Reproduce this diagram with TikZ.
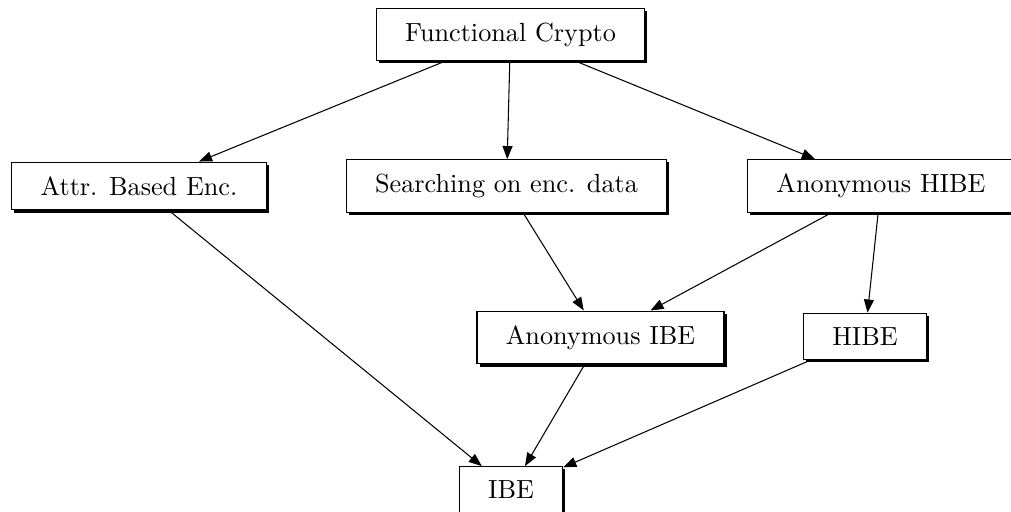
\documentclass[tikz,border=0pt]{standalone}
\usetikzlibrary{arrows.meta,shadows}

\begin{document}
\begin{tikzpicture}[x=0.3817pt,y=-0.3817pt,
  box/.style={draw,fill=white,inner xsep=11pt,inner ysep=5.5pt,
    drop shadow={shadow xshift=1pt,shadow yshift=-1pt,fill=black,opacity=1}},
  edge/.style={-{Triangle[length=5pt,width=3.8pt]}}]

\useasboundingbox (0,0) rectangle (1011,512);

% -- level 1
\node [box] (func) at (510.5,34.5) {Functional Crypto};

% -- level 2
\node [box] (abe) at (139,186) {Attr. Based Enc.};
\node [box] (search) at (506.5,186) {Searching on enc. data};
\node [box] (anonhibe) at (881,186) {Anonymous HIBE};

% -- level 3
\node [box] (anonibe) at (600.5,337.5) {Anonymous IBE};
\node [box] (hibe) at (865,336.5) {HIBE};

% -- level 4
\node [box] (ibe) at (511,490) {IBE};

% -- draw arrows
\draw[edge] (func) -- (abe);
\draw[edge] (func) -- (search);
\draw[edge] (func) -- (anonhibe);

\draw[edge] (abe) -- (ibe);
\draw[edge] (search) -- (anonibe);
\draw[edge] (anonhibe) -- (anonibe);
\draw[edge] (anonhibe) -- (hibe);

\draw[edge] (anonibe) -- (ibe);
\draw[edge] (hibe) -- (ibe);
\end{tikzpicture}
\end{document}
